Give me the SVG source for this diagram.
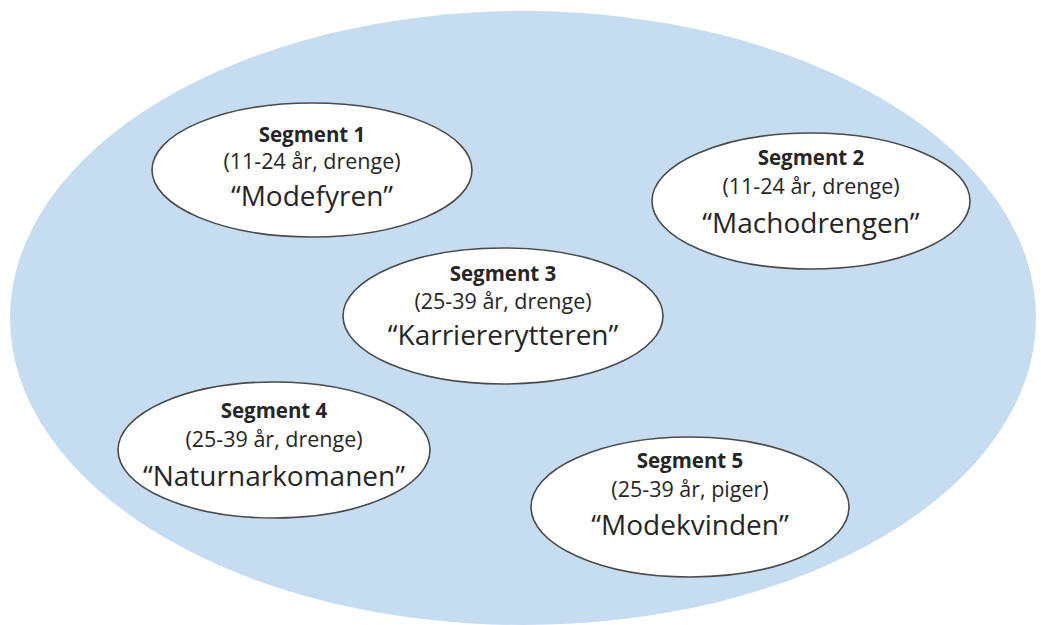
<svg xmlns="http://www.w3.org/2000/svg" width="1041" height="625" viewBox="0 0 1041 625">
<style>
.seg{fill:#fff;stroke:#4a4a4a;stroke-width:1.6}
text{font-family:"Open Sans","Noto Sans",sans-serif;fill:#262626;text-anchor:middle}
.t{font-weight:bold;font-size:20.5px}
.s{font-size:21.5px}
.n{font-size:28px}
</style>
<rect width="1041" height="625" fill="#fff"/>
<ellipse id="market" cx="523" cy="318" rx="513" ry="307" fill="#c5dcf1"/>
<g id="connectors"/>
<g id="seg1">
<ellipse class="seg" cx="312" cy="170" rx="160" ry="67"/>
<text class="t" x="312" y="142">Segment 1</text>
<text class="s" x="312" y="169">(11-24 år, drenge)</text>
<text class="n" x="312" y="206">“Modefyren”</text>
</g>
<g id="seg2">
<ellipse class="seg" cx="811" cy="201" rx="159" ry="68"/>
<text class="t" x="811" y="165">Segment 2</text>
<text class="s" x="811" y="194">(11-24 år, drenge)</text>
<text class="n" x="811" y="233">“Machodrengen”</text>
</g>
<g id="seg3">
<ellipse class="seg" cx="503" cy="316" rx="160" ry="68"/>
<text class="t" x="503" y="281">Segment 3</text>
<text class="s" x="503" y="309">(25-39 år, drenge)</text>
<text class="n" x="503" y="345">“Karriererytteren”</text>
</g>
<g id="seg4">
<ellipse class="seg" cx="274" cy="450" rx="156" ry="68"/>
<text class="t" x="274" y="418">Segment 4</text>
<text class="s" x="274" y="447">(25-39 år, drenge)</text>
<text class="n" x="274" y="486">“Naturnarkomanen”</text>
</g>
<g id="seg5">
<ellipse class="seg" cx="690" cy="507" rx="159" ry="70"/>
<text class="t" x="690" y="468">Segment 5</text>
<text class="s" x="690" y="497">(25-39 år, piger)</text>
<text class="n" x="690" y="535">“Modekvinden”</text>
</g>
</svg>
